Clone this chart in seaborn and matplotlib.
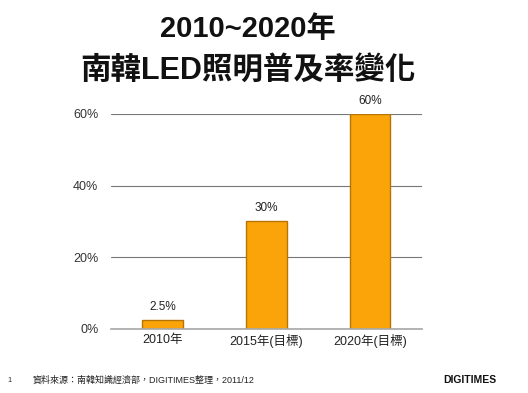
import matplotlib
matplotlib.use("Agg")
import matplotlib.pyplot as plt
import seaborn as sns
import pandas as pd

years = ["2010年", "2015年(目標)", "2020年(目標)"]
rates = [2.5, 30, 60]
rate_labels = ["2.5%", "30%", "60%"]
y_ticks = [0, 20, 40, 60]

sns.set_theme(style="white")
plt.rcParams['font.family'] = ['Liberation Sans', 'Noto Sans CJK TC', 'DejaVu Sans']

df = pd.DataFrame({"year": years, "rate": rates})

fig = plt.figure(figsize=(5.28, 3.93), dpi=100)
ax = fig.add_axes([0.21, 0.163, 0.589, 0.547])

sns.barplot(data=df, x="year", y="rate", color="#FBA40A", width=0.39,
            edgecolor="#B87400", linewidth=1, saturation=1, ax=ax)

ax.set_ylim(0, 60)
ax.set_xlim(-0.5, 2.5)
ax.set_yticks(y_ticks)
ax.set_yticklabels([f"{t}%" for t in y_ticks], fontsize=9, color="#333333")
ax.tick_params(axis="x", labelsize=9, colors="#222222", pad=4, length=0)
ax.tick_params(axis="y", pad=9, length=0)
ax.set_xlabel("")
ax.set_ylabel("")
ax.yaxis.grid(True, color="#777777", linewidth=0.8)
ax.set_axisbelow(True)
for s in ["left", "right", "top"]:
    ax.spines[s].set_visible(False)
ax.spines["bottom"].set_color("#aaaaaa")

# value labels
for i, (v, lab) in enumerate(zip(rates, rate_labels)):
    ax.text(i, v + 2, lab, ha="center", va="bottom", fontsize=8.5,
            color="#222222", clip_on=False)

fig.text(0.47, 0.925, "2010~2020年", ha="center", va="center",
         fontsize=21, fontweight="bold", color="#111111")
fig.text(0.47, 0.817, "南韓LED照明普及率變化", ha="center", va="center",
         fontsize=22, fontweight="bold", color="#111111")

fig.text(0.015, 0.033, "1", fontsize=5.5, color="#333333", va="center")
fig.text(0.062, 0.033, "資料來源：南韓知識經濟部，DIGITIMES整理，2011/12",
         fontsize=6.5, color="#222222", va="center")
fig.text(0.94, 0.033, "DIGITIMES", fontsize=7.5, fontweight="bold",
         color="#111111", ha="right", va="center")

fig.savefig("out.png", dpi=100)
